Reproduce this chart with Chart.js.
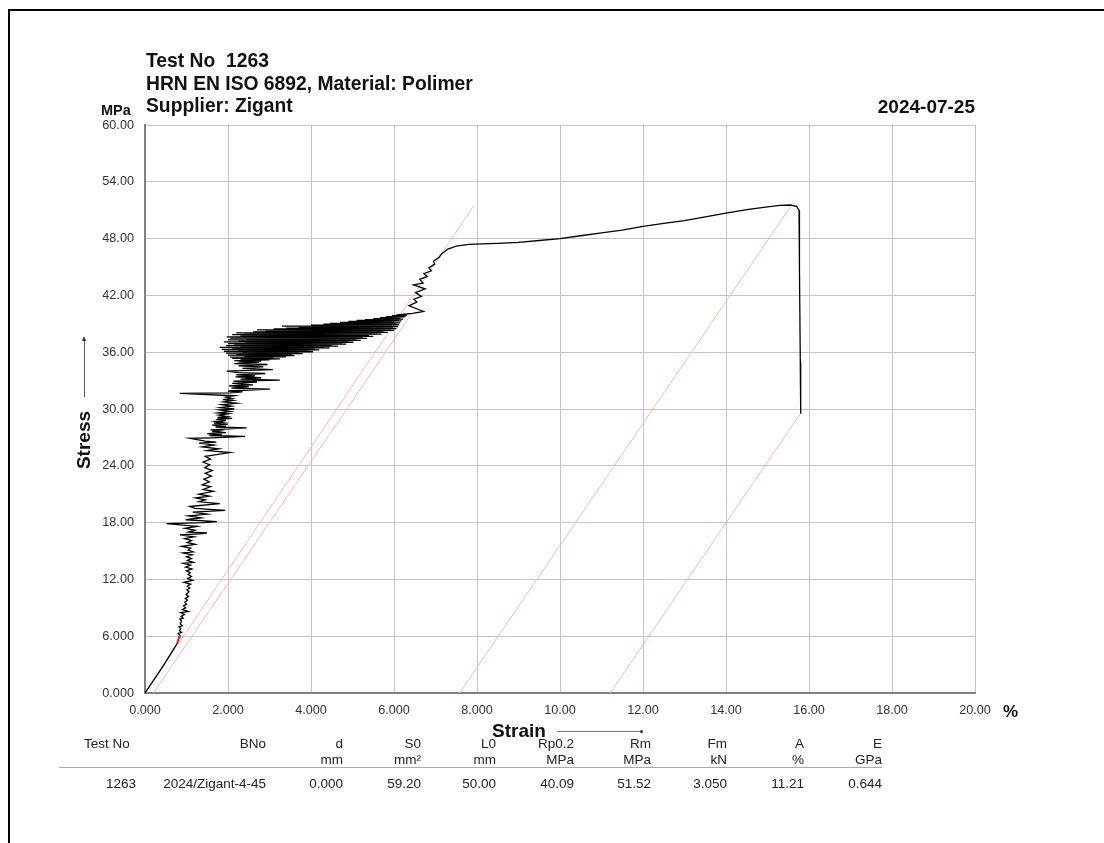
<!DOCTYPE html>
<html>
<head>
<meta charset="utf-8">
<script src="https://cdn.jsdelivr.net/npm/chart.js@4.4.1/dist/chart.umd.min.js"></script>
<style>
  body { margin:0; background:#fff; font-family:"Liberation Sans", Arial, sans-serif; color:#111; }
  #wrap { position:absolute; left:0; top:0; width:1104px; height:843px; overflow:hidden; }
  #frame { position:absolute; left:8px; top:9px; width:1200px; height:1000px; border-top:2px solid #000; border-left:2px solid #000; }
  #chartBox { position:absolute; left:0; top:0; width:1104px; height:843px; }
  .t { position:absolute; white-space:pre; }
  .b { font-weight:bold; }
  .cell { position:absolute; white-space:pre; font-size:13.5px; line-height:16px; color:#222; text-align:right; }
</style>
</head>
<body>
<div id="wrap">
  <div id="frame"></div>
  <div id="chartBox"><canvas id="chart-stress"></canvas></div>

  <div class="t b" style="left:146px; top:50px; font-size:19.3px; line-height:22.5px;">Test No  1263
HRN EN ISO 6892, Material: Polimer
Supplier: Zigant</div>
  <div class="t b" style="right:129px; top:96px; font-size:19px; line-height:22px;">2024-07-25</div>
  <div class="t b" style="left:101px; top:101px; font-size:14.5px; line-height:18px;">MPa</div>
  <div class="t b" style="left:1003px; top:702px; font-size:17px; line-height:20px;">%</div>

  <!-- axis titles -->
  <div class="t b" style="left:54px; top:429px; width:60px; text-align:center; font-size:19px; line-height:22px; transform:rotate(-90deg);">Stress</div>
  <div style="position:absolute; left:84px; top:340px; width:1px; height:57px; background:#555;"></div>
  <div style="position:absolute; left:82px; top:336px; width:0; height:0; border-left:2.5px solid transparent; border-right:2.5px solid transparent; border-bottom:5px solid #333;"></div>
  <div class="t b" style="left:492px; top:720px; font-size:19px; line-height:22px;">Strain</div>
  <div style="position:absolute; left:557px; top:731px; width:84px; height:1px; background:#777;"></div>
  <div style="position:absolute; left:640px; top:730px; width:3px; height:3px; background:#333; border-radius:2px;"></div>

  <div style="position:absolute; left:59px; top:767px; width:823px; height:1px; background:#aaa;"></div>
  <div id="table"></div>
</div>

<script>
/*############################################################################
                  Stress-strain curve, test 1263
############################################################################*/

// Axis ticks
var strainTicks = [0, 2, 4, 6, 8, 10, 12, 14, 16, 18, 20];
var stressTicks = [0, 6, 12, 18, 24, 30, 36, 42, 48, 54, 60];

var elasticPart = [[0,0],[0.2,1.3],[0.4,2.6],[0.6,4.0],[0.77,5.2],[0.82,5.9]];

var lowerNoise = [[0.84,6.1],[0.80,6.3],[0.88,6.4],[0.83,6.6],[0.86,6.8],[0.82,7.0],[0.90,7.1],[0.85,7.3],
  [0.88,7.6],[0.84,7.8],[0.92,7.9],[0.87,8.1],[0.95,8.3],[0.86,8.5],[1.04,8.6],[0.90,8.8],[0.98,9.0],
  [0.93,9.2],[1.00,9.4],[0.96,9.6],[1.02,9.8],[0.97,10.0],[1.05,10.2],[0.99,10.4],[1.06,10.7],[1.01,10.9],
  [1.08,11.1],[1.02,11.3],[1.10,11.5],[0.94,11.7],[1.15,11.9],[1.03,12.1],[1.12,12.3],[1.04,12.5],
  [1.09,12.7],[1.00,12.9],[1.13,13.1],[0.98,13.3],[1.10,13.5],[0.92,13.7],[1.16,13.8],[1.02,14.0],
  [1.12,14.2],[1.00,14.4],[1.14,14.6],[0.92,14.8],[1.16,14.9],[1.04,15.1],[1.10,15.3],[0.88,15.5],
  [1.21,15.7],[1.02,15.9]];

var middleNoise = [[1.12,16.1],[0.96,16.3],[1.18,16.5],[0.84,16.7],[1.30,16.8],[1.49,16.9],[1.05,17.0],
  [1.20,17.2],[0.96,17.4],[1.25,17.6],[0.52,17.9],[1.40,18.0],[1.73,18.1],[0.98,18.3],[1.35,18.5],
  [1.05,18.7],[1.50,18.9],[1.15,19.1],[1.93,19.3],[1.20,19.5],[1.08,19.7],[1.80,20.0],[1.30,20.2],
  [1.45,20.4],[1.22,20.6],[1.55,20.8],[1.30,21.0],[1.65,21.3],[1.40,21.5],[1.58,21.8],[1.38,22.0],
  [1.55,22.3],[1.42,22.6],[1.60,22.9],[1.45,23.2],[1.62,23.5],[1.44,23.8],[1.56,24.1],[1.40,24.4],
  [1.58,24.7],[1.45,25.0],[2.05,25.4],[1.50,25.6],[1.78,25.8],[1.38,26.0],[1.66,26.2]];

var upperNoise = [[1.30,26.4],[1.72,26.5],[1.45,26.6],[1.08,26.9],[1.60,26.95],[1.90,27.0],[2.41,27.1],
  [1.55,27.2],[1.85,27.3],[1.50,27.4],[1.95,27.5],[1.62,27.6],[1.80,27.7],[1.58,27.8],[2.45,28.0],
  [1.70,28.1],[1.95,28.2],[1.62,28.3],[2.00,28.4],[1.66,28.5],[1.88,28.6],[1.70,28.7],[1.95,28.8],
  [1.72,28.9],[2.10,29.0],[1.75,29.1],[1.98,29.2],[1.78,29.35],[2.02,29.5],[1.76,29.6],[2.05,29.75],
  [1.80,29.9],[2.15,30.0],[1.82,30.15],[2.08,30.3],[1.85,30.45],[2.21,30.6],[1.90,30.75],[2.12,30.9],
  [1.88,31.0],[2.10,31.1],[1.95,31.25],[2.15,31.4],[0.84,31.65],[2.05,31.7],[2.35,31.8],[2.00,31.9],
  [3.01,32.1],[2.08,32.2],[2.50,32.35],[2.02,32.45],[2.60,32.55],[2.10,32.7],[2.70,32.85],[2.13,32.95],
  [3.25,33.05],[2.30,33.15],[2.80,33.3],[2.18,33.4],[2.65,33.5],[2.20,33.6],[2.90,33.75],[2.25,33.85],
  [1.97,34.0],[3.08,34.15],[2.35,34.3],[2.85,34.45],[2.25,34.55],[2.95,34.7],[2.15,34.8],[2.75,34.95]];

var yieldBand = [[2.25,35.00],[2.80,35.05],[2.15,35.12],[3.00,35.18],[2.30,35.22],[3.25,35.30],[2.10,35.36],
  [3.10,35.42],[2.05,35.48],[3.40,35.52],[2.40,35.58],[3.60,35.63],[2.00,35.70],[3.55,35.75],[2.20,35.80],
  [3.80,35.85],[1.95,35.90],[3.70,35.95],[2.35,36.00],[4.05,36.05],[1.90,36.10],[3.95,36.15],[2.25,36.20],
  [4.20,36.25],[1.85,36.30],[4.10,36.35],[2.10,36.40],[4.45,36.45],[1.80,36.50],[4.30,36.55],[2.30,36.60],
  [4.65,36.65],[1.95,36.70],[4.50,36.75],[2.15,36.80],[4.85,36.85],[2.00,36.90],[4.75,36.95],[2.40,37.00],
  [5.02,37.05],[1.90,37.10],[4.90,37.15],[2.25,37.20],[5.20,37.25],[2.00,37.30],[5.10,37.35],[2.45,37.40],
  [5.35,37.45],[2.05,37.50],[5.25,37.55],[1.97,37.62],[5.50,37.68],[2.30,37.72],[5.40,37.78],[2.10,37.85],
  [5.70,37.90],[2.40,37.95],[5.60,38.00],[2.20,38.05],[5.85,38.10],[2.60,38.15],[5.75,38.20],[2.90,38.25],
  [6.00,38.30],[2.70,38.35],[5.90,38.40],[3.10,38.45],[6.06,38.50],[3.40,38.55],[5.98,38.60],[3.70,38.65],
  [6.10,38.70],[3.30,38.75],[5.95,38.80],[4.00,38.85],[6.12,38.90],[4.30,38.95],[6.05,39.00],[4.46,39.05],
  [6.15,39.10],[4.70,39.15],[6.00,39.20],[4.90,39.25],[6.18,39.30],[5.10,39.35],[6.10,39.40],[5.30,39.45],
  [6.22,39.50],[5.50,39.55],[6.15,39.60],[5.66,39.65],[6.25,39.70],[5.80,39.75],[6.28,39.80],[5.95,39.85],
  [6.32,39.92],[6.06,39.95]];

var transitionPart = [[6.45,40.1],[6.71,40.3],[6.36,40.9],[6.55,41.3],[6.48,41.6],[6.66,41.9],[6.52,42.3],
  [6.75,42.7],[6.47,43.1],[6.70,43.3],[6.62,43.7],[6.80,44.0],[6.72,44.3],[6.90,44.6],[6.84,44.9],
  [6.98,45.3],[6.95,45.6],[7.08,46.0],[7.15,46.4],[7.30,46.9],[7.50,47.2],[7.80,47.4],[8.10,47.45]];

var hardeningPart = [[8.5,47.5],[9.0,47.6],[9.5,47.8],[10.0,48.0],[10.5,48.3],[11.0,48.6],[11.5,48.9],
  [12.0,49.3],[12.5,49.6],[13.0,49.9],[13.5,50.3],[14.0,50.7],[14.5,51.05],[15.0,51.35],[15.3,51.5],
  [15.55,51.55],[15.7,51.4],[15.76,51.0],[15.77,45.0],[15.79,35.0],[15.8,29.5]];

// Evaluation lines (E = 0.644 GPa)
var modulusLine = [[0,0],[7.93,51.5]];
var rp02Line    = [[0.2,0],[6.43,40.09]];
var rmLine      = [[7.58,0],[15.58,51.52]];
var breakLine   = [[11.21,0],[15.79,29.5]];
var startMarker = [[0.78,5.3],[0.84,6.1]];

// Result table
var colNames  = ["Test No", "BNo", "d", "S0", "L0", "Rp0.2", "Rm", "Fm", "A", "E"];
var colUnits  = ["", "", "mm", "mm\u00b2", "mm", "MPa", "MPa", "kN", "%", "GPa"];
var colValues = ["1263", "2024/Zigant-4-45", "0.000", "59.20", "50.00", "40.09", "51.52", "3.050", "11.21", "0.644"];

var colRight = [136, 266, 343, 421, 496, 574, 651, 727, 804, 882];
var table = document.getElementById("table");
function addCell(txt, right, cy){
  var d = document.createElement("div");
  d.className = "cell";
  d.textContent = txt;
  d.style.right = (1104 - right) + "px";
  d.style.top = (cy - 8) + "px";
  table.appendChild(d);
}
colNames.forEach(function(n, i){
  if (i === 0) {
    var d = document.createElement("div");
    d.className = "cell";
    d.style.textAlign = "left";
    d.style.left = "84px";
    d.style.top = (744 - 8) + "px";
    d.textContent = n;
    table.appendChild(d);
  } else addCell(n, colRight[i], 744);
  if (colUnits[i]) addCell(colUnits[i], colRight[i], 760);
  addCell(colValues[i], colRight[i], 784);
});

function toPts(arr){ return arr.map(function(p){ return {x:p[0], y:p[1]}; }); }
var curve = [].concat(elasticPart, lowerNoise, middleNoise, upperNoise, yieldBand, transitionPart, hardeningPart);

function lineSet(pts, color, width){
  return { data: toPts(pts), showLine:true, borderColor:color, borderWidth:width,
           pointRadius:0, tension:0, fill:false };
}

function fmt(v){ return v < 10 ? v.toFixed(3) : v.toFixed(2); }

var htmlTag = document.getElementById("chart-stress");
var configStress = {
  type:"scatter",
  data:{
    datasets:[
      lineSet(startMarker, "#ff2020", 2),
      lineSet(curve, "#000000", 1.3),
      lineSet(modulusLine, "#ffb4b4", 1),
      lineSet(rp02Line, "#ffb4b4", 1),
      lineSet(rmLine, "#ffb4b4", 1),
      lineSet(breakLine, "#ffb4b4", 1)
    ]
  },
  options:{
    responsive:true,
    maintainAspectRatio:false,
    animation:false,
    plugins:{ legend:{display:false}, tooltip:{enabled:false} },
    layout:{ padding:{ left:85, right:129, top:125, bottom:110 } },
    scales:{
      x:{
        type:"linear", min:0, max:20,
        afterBuildTicks:function(s){ s.ticks = strainTicks.map(function(v){ return {value:v}; }); },
        afterFit:function(s){ s.height = 40; },
        ticks:{ callback:fmt, color:"#333", padding:10, maxRotation:0,
                font:{ family:"Liberation Sans", size:12.7 } },
        grid:{ color:"#c4c4c4", lineWidth:1, drawTicks:false },
        border:{ color:"#808080", width:2 }
      },
      y:{
        type:"linear", min:0, max:60,
        afterBuildTicks:function(s){ s.ticks = stressTicks.map(function(v){ return {value:v}; }); },
        afterFit:function(s){ s.width = 60; },
        ticks:{ callback:fmt, color:"#333", padding:11,
                font:{ family:"Liberation Sans", size:12.7 } },
        grid:{ color:"#c4c4c4", lineWidth:1, drawTicks:false },
        border:{ color:"#808080", width:2 }
      }
    }
  }
};

var chartStress = new Chart(htmlTag, configStress);
</script>
</body>
</html>
